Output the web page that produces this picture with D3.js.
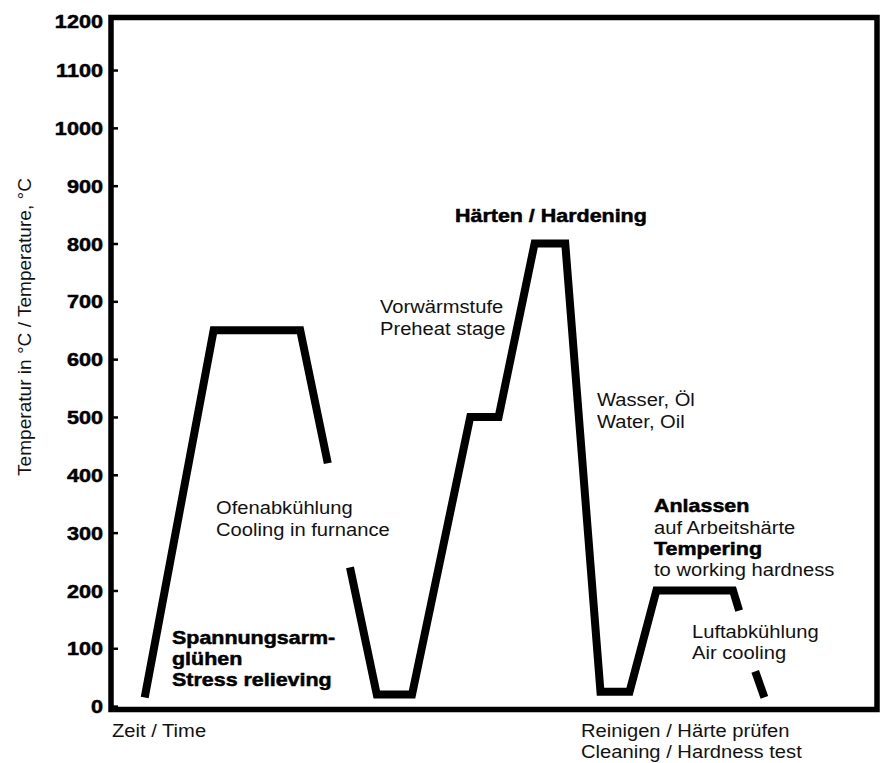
<!DOCTYPE html>
<html>
<head>
<meta charset="utf-8">
<script src="https://cdn.jsdelivr.net/npm/d3@7"></script>
<style>
  body { margin: 0; background: #fff; }
  text { font-family: "Liberation Sans", Arial, Helvetica, sans-serif; }
</style>
</head>
<body>
<script>
// heat treatment diagram: temperature over (unscaled) time

// y axis ticks
var tempTicks = [0, 100, 200, 300, 400, 500, 600, 700, 800, 900, 1000, 1100, 1200];

// stress relieving: heat up, hold, furnace cooling (line broken by the label)
var seg1Time = [4.4, 13.4, 24.7, 28.3];
var seg1Temp = [15, 650, 650, 420];

// rest of furnace cooling, preheat, hardening, quench, tempering
var seg2Time = [31.2, 34.7, 39.3, 46.9, 50.6, 55.3, 59.3, 63.9, 67.7, 71.2, 81.2, 82.0];
var seg2Temp = [240, 20, 20, 500, 500, 800, 800, 25, 25, 200, 200, 165];

// end of air cooling
var seg3Time = [84.1, 85.3];
var seg3Temp = [60, 15];

var segments = [
  d3.zip(seg1Time, seg1Temp),
  d3.zip(seg2Time, seg2Temp),
  d3.zip(seg3Time, seg3Temp)
];

// annotations: [text, x, y, bold]
var labels = [
  ["Spannungsarm-", 172, 644, true],
  ["glühen", 172, 665, true],
  ["Stress relieving", 172, 686, true],
  ["Ofenabkühlung", 216, 514, false],
  ["Cooling in furnance", 216, 536, false],
  ["Vorwärmstufe", 380, 313, false],
  ["Preheat stage", 380, 335, false],
  ["Härten / Hardening", 455, 222, true],
  ["Wasser, Öl", 597, 406, false],
  ["Water, Oil", 597, 428, false],
  ["Anlassen", 654, 512, true],
  ["auf Arbeitshärte", 654, 534, false],
  ["Tempering", 654, 555, true],
  ["to working hardness", 654, 576, false],
  ["Luftabkühlung", 692, 638, false],
  ["Air cooling", 692, 659, false],
  ["Zeit / Time", 112, 737, false],
  ["Reinigen / Härte prüfen", 581, 737, false],
  ["Cleaning / Hardness test", 581, 758, false]
];

var svgwidth = 884, svgheight = 763;
var frameLeft = 111, frameRight = 877, frameTop = 17.5, frameBottom = 709.5;

var svg = d3.select("body").append("svg")
  .attr("width", svgwidth)
  .attr("height", svgheight);

var x = d3.scaleLinear().domain([0, 100]).range([frameLeft, frameRight]);
var y = d3.scaleLinear().domain([0, 1200]).range([706.1, 12.2]);

// left axis, ticks point inwards
var yAxis = d3.axisLeft(y)
  .tickValues(tempTicks)
  .tickSizeInner(-7)
  .tickSizeOuter(0)
  .tickFormat(d3.format("d"));

var gy = svg.append("g")
  .attr("transform", "translate(" + frameLeft + ",0)")
  .call(yAxis);

gy.select(".domain").remove();
gy.selectAll(".tick line")
  .attr("stroke", "#000")
  .attr("stroke-width", 2.5)
  .attr("display", function(d) { return d == 1200 ? "none" : null; });
gy.selectAll(".tick text")
  .attr("x", 0)
  .attr("dy", null)
  .attr("fill", "#000")
  .attr("stroke", "#000")
  .attr("stroke-width", 0.5)
  .attr("text-anchor", "end")
  .attr("font-family", "'Liberation Sans', Arial, sans-serif")
  .attr("font-size", "18.5px")
  .attr("font-weight", "bold")
  // top label sits at the frame corner
  .attr("transform", function(d) {
    var dy = d == 1200 ? 15.5 : 6.6;
    return "translate(-8," + dy + ") scale(1.17,1)";
  });

// temperature curve
var line = d3.line()
  .x(function(d) { return x(d[0]); })
  .y(function(d) { return y(d[1]); });

svg.selectAll("path.curve")
  .data(segments)
  .enter()
  .append("path")
  .attr("class", "curve")
  .attr("d", line)
  .attr("fill", "none")
  .attr("stroke", "#000")
  .attr("stroke-width", 8)
  .attr("stroke-linejoin", "miter")
  .attr("stroke-linecap", "butt");

// frame
svg.append("rect")
  .attr("x", frameLeft)
  .attr("y", frameTop)
  .attr("width", frameRight - frameLeft)
  .attr("height", frameBottom - frameTop)
  .attr("fill", "none")
  .attr("stroke", "#000")
  .attr("stroke-width", 5.5);

// y title
svg.append("text")
  .attr("transform", "translate(25,327) rotate(-90) scale(1.09,1)")
  .attr("text-anchor", "middle")
  .attr("dy", "0.35em")
  .attr("font-size", "17.5px")
  .attr("fill", "#111")
  .text("Temperatur in °C / Temperature, °C");

// annotations
svg.selectAll("text.note")
  .data(labels)
  .enter()
  .append("text")
  .attr("class", "note")
  .attr("transform", function(d) {
    return "translate(" + d[1] + "," + d[2] + ") scale(" + (d[3] ? 1.16 : 1.09) + ",1)";
  })
  .attr("font-size", "18.5px")
  .attr("font-weight", function(d) { return d[3] ? "bold" : "normal"; })
  .attr("fill", function(d) { return d[3] ? "#000" : "#111"; })
  .attr("stroke", function(d) { return d[3] ? "#000" : "none"; })
  .attr("stroke-width", 0.5)
  .text(function(d) { return d[0]; });
</script>
</body>
</html>
